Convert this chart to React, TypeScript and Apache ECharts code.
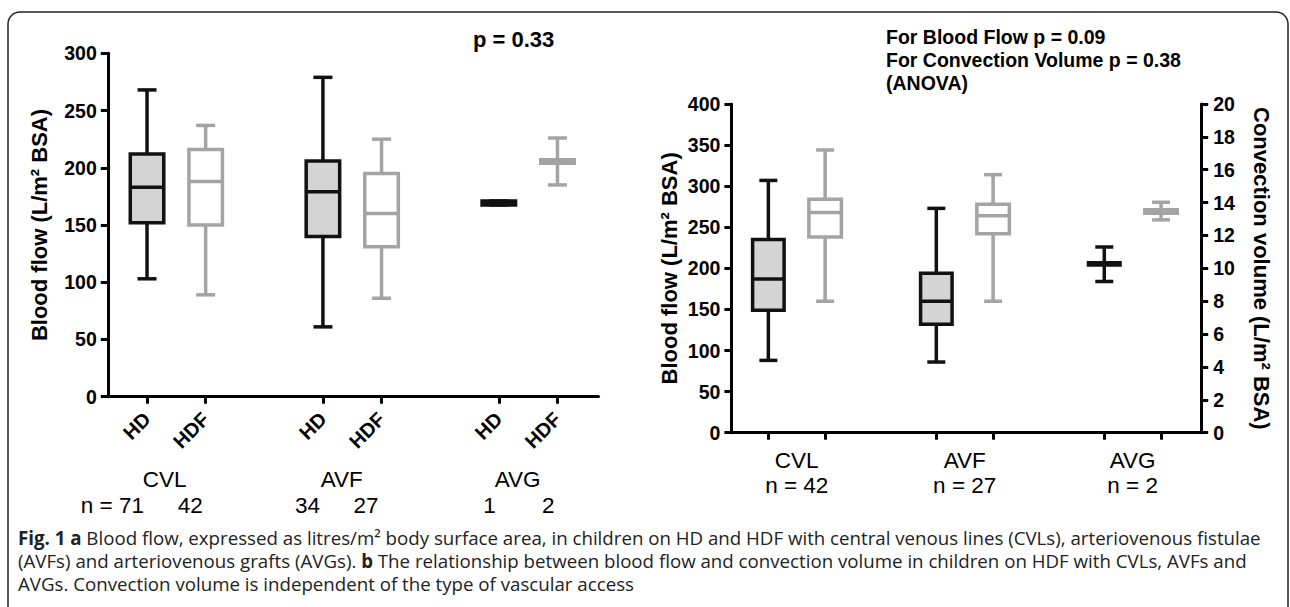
import React, { useEffect, useRef } from "react";
import * as echarts from "echarts";

// ---------- data ----------
const leftAccess = ["CVL", "AVF", "AVG"];
const leftModes = ["HD", "HDF"];
const leftTickPos = [0, 1, 3, 4, 6, 7];
const leftGroupPos = [0.3, 3.32, 6.32];
const leftN = ["n = 71", "42", "34", "27", "1", "2"];
// [min, Q1, median, Q3, max]
const hdStats = [
  [103, 152, 183, 212, 268],
  [61, 140, 179, 206, 279],
  [167.5, 167.5, 169.3, 171, 171],
];
const hdfStats = [
  [89, 150, 188, 216, 237],
  [86, 131, 160, 195, 225],
  [185, 204, 205.5, 207, 226],
];

const rightAccess = ["CVL", "AVF", "AVG"];
const rightN = [42, 27, 2];
const rightGroupPos = [0, 1, 2];
const pairOffset = 0.169;
const bloodFlowStats = [
  [88, 149, 187, 235, 307],
  [86, 132, 160, 194, 273],
  [184, 204.1, 205.5, 206.8, 226],
];
const convectionStats = [
  [8.0, 11.9, 13.4, 14.2, 17.2],
  [8.0, 12.1, 13.2, 13.9, 15.7],
  [12.95, 13.36, 13.46, 13.57, 14.02],
];

const captionLines = [
  "{b|Fig. 1 a} Blood flow, expressed as litres/m² body surface area, in children on HD and HDF with central venous lines (CVLs), arteriovenous fistulae",
  "(AVFs) and arteriovenous grafts (AVGs). {b|b} The relationship between blood flow and convection volume in children on HDF with CVLs, AVFs and",
  "AVGs. Convection volume is independent of the type of vascular access",
];

const FONT = "'Liberation Sans', Arial, sans-serif";
const CAP_FONT = "'Open Sans', 'Noto Sans', sans-serif";
const BLACK = "#111111";
const GRAY = "#a4a4a4";
const LIGHT = "#d4d4d4";

function boxRenderer(boxW: number, capW: number, stroke: string, fill: string) {
  return (params: any, api: any) => {
    const x = api.value(0);
    const pMin = api.coord([x, api.value(1)]);
    const pQ1 = api.coord([x, api.value(2)]);
    const pMed = api.coord([x, api.value(3)]);
    const pQ3 = api.coord([x, api.value(4)]);
    const pMax = api.coord([x, api.value(5)]);
    const cx = pMin[0];
    const lw = 3.5;
    const ls = { stroke, lineWidth: lw };
    return {
      type: "group",
      children: [
        { type: "line", shape: { x1: cx, y1: pQ3[1], x2: cx, y2: pMax[1] }, style: ls },
        { type: "line", shape: { x1: cx, y1: pQ1[1], x2: cx, y2: pMin[1] }, style: ls },
        { type: "line", shape: { x1: cx - capW / 2, y1: pMax[1], x2: cx + capW / 2, y2: pMax[1] }, style: ls },
        { type: "line", shape: { x1: cx - capW / 2, y1: pMin[1], x2: cx + capW / 2, y2: pMin[1] }, style: ls },
        {
          type: "rect",
          shape: { x: cx - boxW / 2, y: pQ3[1], width: boxW, height: pQ1[1] - pQ3[1] },
          style: { fill, stroke, lineWidth: lw },
        },
        { type: "line", shape: { x1: cx - boxW / 2, y1: pMed[1], x2: cx + boxW / 2, y2: pMed[1] }, style: ls },
      ],
    };
  };
}

const axisLineStyle = { color: "#000", width: 3 };

export default function App() {
  const ref = useRef<HTMLDivElement>(null);
  useEffect(() => {
    if (!ref.current) return;
    const chart = echarts.init(ref.current, undefined, { renderer: "svg" });

    const leftTickLabels = leftTickPos.map((_, i) => leftModes[i % 2]);
    const rightTickPos: number[] = [];
    rightGroupPos.forEach((g) => {
      rightTickPos.push(g - pairOffset, g + pairOffset);
    });

    const valueLabel = {
      fontFamily: FONT,
      fontWeight: "bold",
      fontSize: 19.5,
      color: "#000",
    };
    const nameStyle = { fontFamily: FONT, fontWeight: "bold", fontSize: 22, color: "#000" };

    const leftXBase = {
      type: "value",
      gridIndex: 0,
      min: -0.669,
      max: 7.7,
      position: "bottom",
      splitLine: { show: false },
    };

    const option: any = {
      animation: false,
      grid: [
        { left: 107.8, right: 691.5, top: 53.3, bottom: 210.3, containLabel: false, outerBoundsMode: "none" },
        { left: 731.4, right: 88.8, top: 104, bottom: 174.3, containLabel: false, outerBoundsMode: "none" },
      ],
      xAxis: [
        {
          ...leftXBase,
          axisLine: { show: true, onZero: false, lineStyle: axisLineStyle },
          axisTick: { show: true, length: 7, lineStyle: axisLineStyle, customValues: leftTickPos },
          axisLabel: {
            customValues: leftTickPos,
            formatter: (v: number) => leftTickLabels[leftTickPos.indexOf(v)] ?? "",
            rotate: 45,
            margin: 19,
            fontFamily: FONT,
            fontWeight: "bold",
            fontSize: 20,
            color: "#000",
          },
        },
        {
          ...leftXBase,
          axisLine: { show: false, onZero: false },
          axisTick: { show: false },
          axisLabel: {
            customValues: leftGroupPos,
            formatter: (v: number) => leftAccess[leftGroupPos.indexOf(v)] ?? "",
            margin: 71,
            fontFamily: FONT,
            fontSize: 22.5,
            color: "#000",
          },
        },
        {
          ...leftXBase,
          axisLine: { show: false, onZero: false },
          axisTick: { show: false },
          axisLabel: {
            customValues: leftTickPos,
            formatter: (v: number) => leftN[leftTickPos.indexOf(v)] ?? "",
            margin: 97,
            align: "right",
            padding: [0, 3, 0, 0],
            fontFamily: FONT,
            fontSize: 22.5,
            color: "#000",
          },
        },
        {
          type: "value",
          gridIndex: 1,
          min: -0.389,
          max: 2.408,
          position: "bottom",
          splitLine: { show: false },
          axisLine: { show: true, onZero: false, lineStyle: axisLineStyle },
          axisTick: { show: true, length: 7, lineStyle: axisLineStyle, customValues: rightTickPos },
          axisLabel: {
            customValues: rightGroupPos,
            formatter: (v: number) => {
              const i = rightGroupPos.indexOf(v);
              return i < 0 ? "" : `${rightAccess[i]}\nn = ${rightN[i]}`;
            },
            margin: 15,
            lineHeight: 25,
            fontFamily: FONT,
            fontSize: 22.5,
            color: "#000",
          },
        },
      ],
      yAxis: [
        {
          type: "value",
          gridIndex: 0,
          min: 0,
          max: 300,
          interval: 50,
          position: "left",
          splitLine: { show: false },
          axisLine: { show: true, onZero: false, lineStyle: axisLineStyle },
          axisTick: { show: true, length: 7, lineStyle: axisLineStyle },
          axisLabel: { ...valueLabel, margin: 11 },
          name: "Blood flow (L/m² BSA)",
          nameLocation: "middle",
          nameGap: 57,
          nameTextStyle: nameStyle,
        },
        {
          type: "value",
          gridIndex: 1,
          min: 0,
          max: 400,
          interval: 50,
          position: "left",
          splitLine: { show: false },
          axisLine: { show: true, onZero: false, lineStyle: axisLineStyle },
          axisTick: { show: true, length: 7, lineStyle: axisLineStyle },
          axisLabel: { ...valueLabel, margin: 11 },
          name: "Blood flow (L/m² BSA)",
          nameLocation: "middle",
          nameGap: 51,
          nameTextStyle: nameStyle,
        },
        {
          type: "value",
          gridIndex: 1,
          min: 0,
          max: 20,
          interval: 2,
          position: "right",
          splitLine: { show: false },
          axisLine: { show: true, onZero: false, lineStyle: axisLineStyle },
          axisTick: { show: true, length: 7, lineStyle: axisLineStyle },
          axisLabel: { ...valueLabel, margin: 12 },
          name: "Convection volume (L/m² BSA)",
          nameLocation: "middle",
          nameGap: 49,
          nameRotate: -90,
          nameTextStyle: nameStyle,
        },
      ],
      series: [
        {
          type: "custom",
          name: "HD",
          xAxisIndex: 0,
          yAxisIndex: 0,
          clip: false,
          encode: { x: 0, y: [1, 2, 3, 4, 5] },
          data: hdStats.map((s, i) => [leftTickPos[i * 2], ...s]),
          renderItem: boxRenderer(33.5, 19, BLACK, LIGHT),
        },
        {
          type: "custom",
          name: "HDF",
          xAxisIndex: 0,
          yAxisIndex: 0,
          clip: false,
          encode: { x: 0, y: [1, 2, 3, 4, 5] },
          data: hdfStats.map((s, i) => [leftTickPos[i * 2 + 1], ...s]),
          renderItem: boxRenderer(33.5, 19, GRAY, "#ffffff"),
        },
        {
          type: "custom",
          name: "Blood flow",
          xAxisIndex: 3,
          yAxisIndex: 1,
          clip: false,
          encode: { x: 0, y: [1, 2, 3, 4, 5] },
          data: bloodFlowStats.map((s, i) => [rightGroupPos[i] - pairOffset, ...s]),
          renderItem: boxRenderer(31.5, 18, BLACK, LIGHT),
        },
        {
          type: "custom",
          name: "Convection volume",
          xAxisIndex: 3,
          yAxisIndex: 2,
          clip: false,
          encode: { x: 0, y: [1, 2, 3, 4, 5] },
          data: convectionStats.map((s, i) => [rightGroupPos[i] + pairOffset, ...s]),
          renderItem: boxRenderer(32.5, 18, GRAY, "#ffffff"),
        },
      ],
      graphic: [
        {
          type: "rect",
          shape: { x: 8, y: 12, width: 1280, height: 700, r: 12 },
          style: { fill: "none", stroke: "#222", lineWidth: 1.5 },
          silent: true,
        },
        {
          type: "text",
          x: 473,
          y: 39,
          style: {
            text: "p = 0.33",
            fontFamily: FONT,
            fontWeight: "bold",
            fontSize: 22,
            fill: "#000",
            verticalAlign: "middle",
          },
        },
        {
          type: "text",
          x: 886,
          y: 25,
          style: {
            text: "For Blood Flow p = 0.09\nFor Convection Volume p = 0.38\n(ANOVA)",
            fontFamily: FONT,
            fontWeight: "bold",
            fontSize: 19.5,
            lineHeight: 23.2,
            fill: "#000",
            verticalAlign: "top",
          },
        },
        {
          type: "text",
          x: 18,
          y: 525.5,
          style: {
            text: captionLines.join("\n"),
            fontFamily: CAP_FONT,
            fontSize: 18.7,
            lineHeight: 23.3,
            fill: "#222",
            verticalAlign: "top",
            rich: {
              b: { fontFamily: CAP_FONT, fontSize: 18.7, lineHeight: 23.3, fontWeight: "bold", fill: "#222" },
            },
          },
        },
      ],
    };
    chart.setOption(option);
    return () => chart.dispose();
  }, []);
  return (
    <div
      ref={ref}
      style={{ position: "fixed", left: 0, top: 0, width: 1290, height: 607, background: "#fff" }}
    />
  );
}
